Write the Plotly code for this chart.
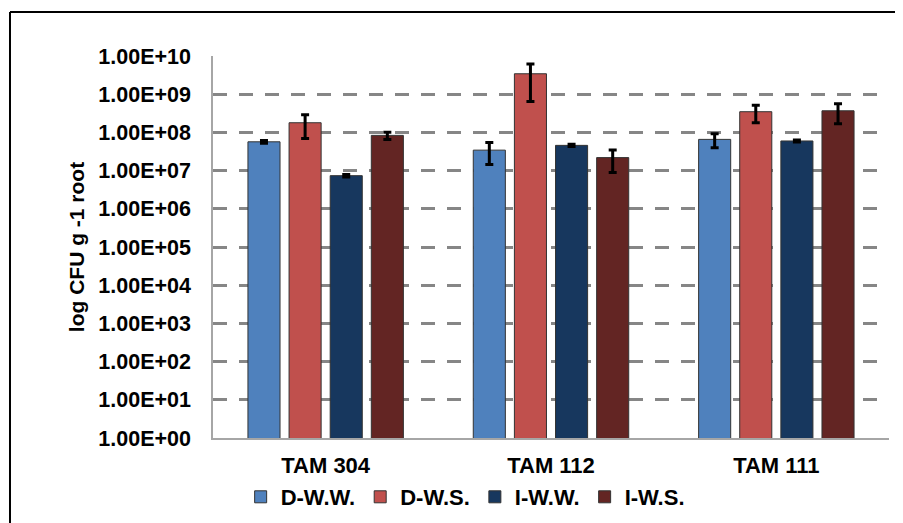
import plotly.graph_objects as go

categories = ["TAM 304", "TAM 112", "TAM 111"]
series_names = ["D-W.W.", "D-W.S.", "I-W.W.", "I-W.S."]
d_ww = [5.7e7, 3.45e7, 6.6e7]
d_ws = [1.8e8, 3.45e9, 3.5e8]
i_ww = [7.4e6, 4.6e7, 6.0e7]
i_ws = [8.4e7, 2.2e7, 3.7e8]
d_ww_err = [5e6, 2.0e7, 2.6e7]
d_ws_err = [1.1e8, 2.8e9, 1.7e8]
i_ww_err = [6e5, 3e6, 4e6]
i_ws_err = [1.8e7, 1.3e7, 2.0e8]
tick_vals = [1e0, 1e1, 1e2, 1e3, 1e4, 1e5, 1e6, 1e7, 1e8, 1e9, 1e10]
tick_text = ["1.00E+00", "1.00E+01", "1.00E+02", "1.00E+03", "1.00E+04", "1.00E+05",
             "1.00E+06", "1.00E+07", "1.00E+08", "1.00E+09", "1.00E+10"]

colors = ["#4F81BD", "#C0504D", "#17375E", "#632523"]
values = [d_ww, d_ws, i_ww, i_ws]
errors = [d_ww_err, d_ws_err, i_ww_err, i_ws_err]

FONT = "Liberation Sans, Arial, sans-serif"

fig = go.Figure()
for name, vals, errs, col in zip(series_names, values, errors, colors):
    fig.add_trace(go.Bar(
        x=categories, y=vals, name=name,
        marker=dict(color=col, line=dict(color="#333333", width=1)),
        error_y=dict(type="data", array=errs, visible=True, color="black", thickness=3, width=4),
    ))

fig.update_layout(
    width=903, height=523,
    margin=dict(l=205, r=22, t=48, b=93, autoexpand=False),
    paper_bgcolor="white", plot_bgcolor="white",
    barmode="group", bargap=0.27, bargroupgap=0.22,
    font=dict(family=FONT, size=21, color="black", weight="bold"),
    showlegend=True,
    legend=dict(orientation="h", xref="paper", x=0.373, xanchor="center",
                yref="container", y=0.065, yanchor="middle",
                font=dict(family=FONT, size=22, color="black", weight="bold"),
                itemwidth=30, traceorder="normal"),
    xaxis=dict(showline=True, linecolor="#A6A6A6", linewidth=1.5, automargin=False,
               ticks="outside", ticklen=7, tickcolor="rgba(0,0,0,0)",
               tickfont=dict(family=FONT, size=22, color="black", weight="bold")),
    yaxis=dict(type="log", range=[0, 10.003], tickvals=tick_vals, ticktext=tick_text,
               showline=True, linecolor="#A6A6A6", linewidth=1.5, automargin=False,
               showgrid=True, gridcolor="#868686", gridwidth=3, griddash="14px,12px",
               ticks="outside", ticklen=16, tickcolor="rgba(0,0,0,0)", zeroline=False,
               tickfont=dict(family=FONT, size=21.5, color="black", weight="bold"),
               title=dict(text="log CFU g -1 root", standoff=8,
                          font=dict(family=FONT, size=21, color="black", weight="bold"))),
    shapes=[
        dict(type="line", xref="paper", yref="paper", x0=-0.3003, x1=1.1, y0=1.1152, y1=1.1152,
             line=dict(color="black", width=2)),
        dict(type="line", xref="paper", yref="paper", x0=-0.3003, x1=-0.3003, y0=1.1152, y1=-0.3,
             line=dict(color="black", width=2)),
    ],
)

fig.write_html("out.html")
